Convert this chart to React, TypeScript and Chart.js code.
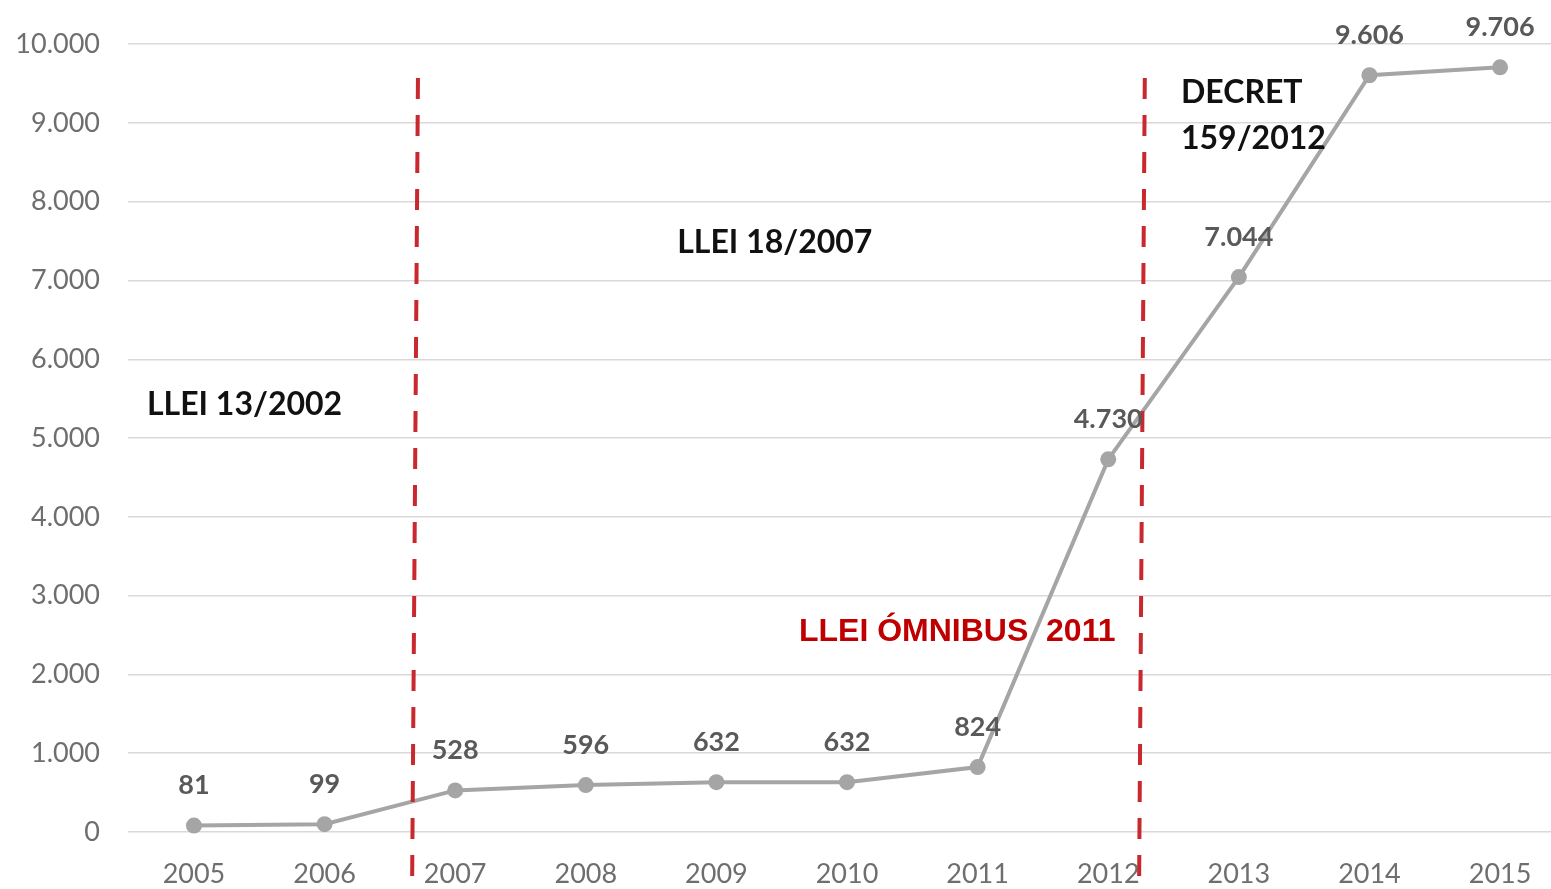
import React, { useEffect, useRef } from "react";
import { Chart, registerables } from "chart.js";

Chart.register(...registerables);

const years: number[] = [2005, 2006, 2007, 2008, 2009, 2010, 2011, 2012, 2013, 2014, 2015];
const values: number[] = [81, 99, 528, 596, 632, 632, 824, 4730, 7044, 9606, 9706];

// dashed vertical marker lines (data coordinates: x at top / x at bottom, top y value)
const markerXTop: number[] = [2006.715, 2012.28];
const markerXBottom: number[] = [2006.67, 2012.236];
const markerYTop: number[] = [9570, 9570];

// text annotations
const noteTexts: string[] = ["LLEI 13/2002", "LLEI 18/2007", "DECRET", "159/2012", "LLEI ÓMNIBUS  2011"];
const noteX: number[] = [2004.64, 2008.7, 2012.557, 2012.557, 2009.632];
const noteY: number[] = [5424, 7484, 9380, 8799, 2541];
const noteRed: boolean[] = [false, false, false, false, true];

const fmt = (v: number) => {
  const s = Math.round(v).toString();
  return s.replace(/\B(?=(\d{3})+(?!\d))/g, ".");
};

const overlayPlugin = {
  id: "overlay",
  afterDatasetsDraw(chart: any) {
    const ctx = chart.ctx;
    const xs = chart.scales.x;
    const ys = chart.scales.y;
    ctx.save();
    // marker lines
    ctx.strokeStyle = "#C8282E";
    ctx.lineWidth = 4;
    ctx.setLineDash([21, 16]);
    for (let i = 0; i < markerXTop.length; i++) {
      const x1 = xs.getPixelForValue(markerXTop[i]);
      const x2 = xs.getPixelForValue(markerXBottom[i]);
      const y1 = ys.getPixelForValue(markerYTop[i]);
      const y2 = chart.height;
      ctx.beginPath();
      ctx.moveTo(x1, y1);
      ctx.lineTo(x2, y2);
      ctx.stroke();
    }
    ctx.setLineDash([]);
    // data labels
    const meta = chart.getDatasetMeta(0);
    ctx.fillStyle = "#595959";
    ctx.font = "bold 27px Lato";
    ctx.textAlign = "center";
    ctx.textBaseline = "middle";
    meta.data.forEach((pt: any, i: number) => {
      ctx.fillText(fmt(values[i]), pt.x, pt.y - 40);
    });
    // notes
    ctx.textAlign = "left";
    for (let i = 0; i < noteTexts.length; i++) {
      const x = xs.getPixelForValue(noteX[i]);
      const y = ys.getPixelForValue(noteY[i]);
      if (noteRed[i]) {
        ctx.fillStyle = "#C00000";
        ctx.font = "bold 32px 'Liberation Sans'";
      } else {
        ctx.fillStyle = "#111111";
        ctx.font = "bold 32px Lato";
      }
      ctx.fillText(noteTexts[i], x, y);
    }
    ctx.restore();
  },
};

export default function App() {
  const ref = useRef<HTMLCanvasElement>(null);
  useEffect(() => {
    if (!ref.current) return;
    const chart = new Chart(ref.current, {
      type: "line",
      data: {
        datasets: [
          {
            data: years.map((y, i) => ({ x: y, y: values[i] })),
            borderColor: "#A5A5A5",
            backgroundColor: "#A5A5A5",
            borderWidth: 4,
            pointRadius: 8,
            pointBorderWidth: 0,
            pointBackgroundColor: "#A5A5A5",
            tension: 0,
            clip: false,
          },
        ],
      },
      options: {
        animation: false,
        responsive: false,
        devicePixelRatio: 1,
        layout: { autoPadding: false, padding: { top: 41, right: 0, bottom: 0, left: 0 } },
        plugins: { legend: { display: false }, tooltip: { enabled: false } },
        scales: {
          x: {
            type: "linear",
            min: 2004.495,
            max: 2015.39,
            grid: { display: false, drawTicks: false },
            border: { display: false },
            afterFit: (s: any) => {
              s.height = 57;
              s.paddingLeft = 0;
              s.paddingRight = 0;
            },
            ticks: {
              stepSize: 1,
              includeBounds: false,
              autoSkip: false,
              maxRotation: 0,
              padding: 26,
              color: "#6E6E6E",
              font: { family: "Lato", size: 27 },
              callback: (v: any) => (Number.isInteger(v) ? String(v) : ""),
            },
          },
          y: {
            min: 0,
            max: 10000,
            grid: { color: "#D9D9D9", lineWidth: 1.5, drawTicks: false },
            border: { display: false },
            afterFit: (s: any) => {
              s.width = 128;
            },
            ticks: {
              stepSize: 1000,
              padding: 28,
              color: "#6E6E6E",
              font: { family: "Lato", size: 27 },
              callback: (v: any) => fmt(Number(v)),
            },
          },
        },
      },
      plugins: [overlayPlugin],
    });
    return () => chart.destroy();
  }, []);
  return (
    <div style={{ position: "fixed", left: 0, top: 0, width: 1551, height: 889, background: "#fff" }}>
      <canvas ref={ref} width={1551} height={889} />
    </div>
  );
}
